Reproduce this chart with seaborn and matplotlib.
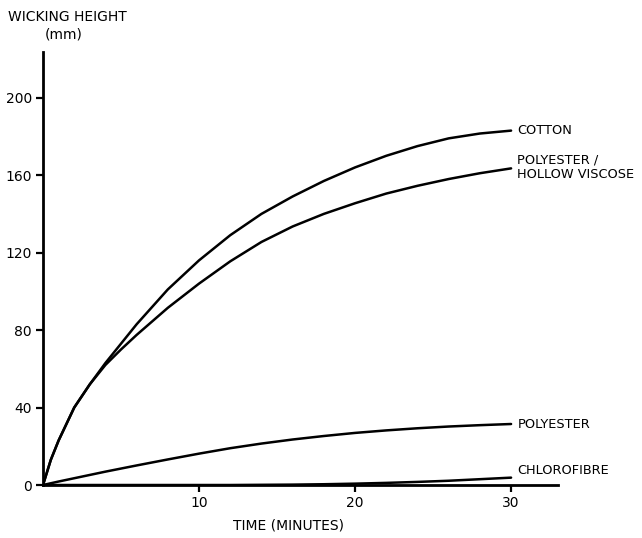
import pandas as pd
import matplotlib
matplotlib.use('Agg')
import matplotlib.pyplot as plt
import seaborn as sns

time_min = [0, 0.5, 1, 2, 3, 4, 5, 6, 8, 10, 12, 14, 16, 18, 20, 22, 24, 26, 28, 30]
cotton = [0, 13, 23, 40, 52, 63, 73, 83, 101, 116, 129, 140, 149, 157, 164, 170, 175, 179, 181.5, 183]
poly_viscose = [0, 13, 23, 40, 52, 62, 70, 77.5, 91.5, 104, 115.5, 125.5, 133.5, 140, 145.5, 150.5, 154.5, 158, 161, 163.5]
polyester = [0, 0.9, 1.8, 3.5, 5.2, 6.9, 8.5, 10.1, 13.2, 16.2, 19, 21.4, 23.5, 25.3, 26.9, 28.2, 29.3, 30.2, 30.9, 31.5]
chlorofibre = [0, 0, 0, 0, 0, 0, 0, 0, 0, 0, 0, 0.1, 0.2, 0.4, 0.7, 1.1, 1.6, 2.2, 3.0, 3.8]

labels = ['COTTON', 'POLYESTER /\nHOLLOW VISCOSE', 'POLYESTER', 'CHLOROFIBRE']
label_y = [183, 164, 31.5, 7.7]
y_ticks = [0, 40, 80, 120, 160, 200]
x_ticks = [10, 20, 30]

series = [cotton, poly_viscose, polyester, chlorofibre]
frames = []
for name, vals in zip(labels, series):
    frames.append(pd.DataFrame({'time': time_min, 'height': vals, 'fibre': name}))
df = pd.concat(frames, ignore_index=True)

sns.set_style('ticks')
plt.rcParams['font.family'] = ['DejaVu Sans']
plt.rcParams['text.color'] = 'black'
plt.rcParams['axes.labelcolor'] = 'black'
plt.rcParams['xtick.color'] = 'black'
plt.rcParams['ytick.color'] = 'black'

fig = plt.figure(figsize=(6.42, 5.38), dpi=100)
ax = fig.add_axes([0.067, 0.0985, 0.802, 0.8045])

sns.lineplot(data=df, x='time', y='height', units='fibre', estimator=None,
             color='black', linewidth=1.8, ax=ax, legend=False)

ax.set_xlim(0, 33)
ax.set_ylim(0, 223.5)
ax.set_xticks(x_ticks)
ax.set_yticks(y_ticks)
ax.tick_params(axis='both', direction='out', length=5, width=1.6,
               labelsize=10, pad=3)
for side in ['top', 'right']:
    ax.spines[side].set_visible(False)
for side in ['left', 'bottom']:
    ax.spines[side].set_linewidth(2)
    ax.spines[side].set_color('black')

for txt, yv in zip(labels, label_y):
    ax.text(30.4, yv, txt, fontsize=9.3, va='center', ha='left', linespacing=1.1)

ax.set_xlabel('TIME (MINUTES)', fontsize=10, labelpad=6)
ax.xaxis.label.set_x(0.476)
ax.set_ylabel('')
fig.text(8 / 642, 1 - 17 / 538, 'WICKING HEIGHT', fontsize=10, va='center', ha='left')
fig.text(64 / 642, 1 - 35 / 538, '(mm)', fontsize=10, va='center', ha='center')

fig.savefig('out.png', dpi=100, facecolor='white')
